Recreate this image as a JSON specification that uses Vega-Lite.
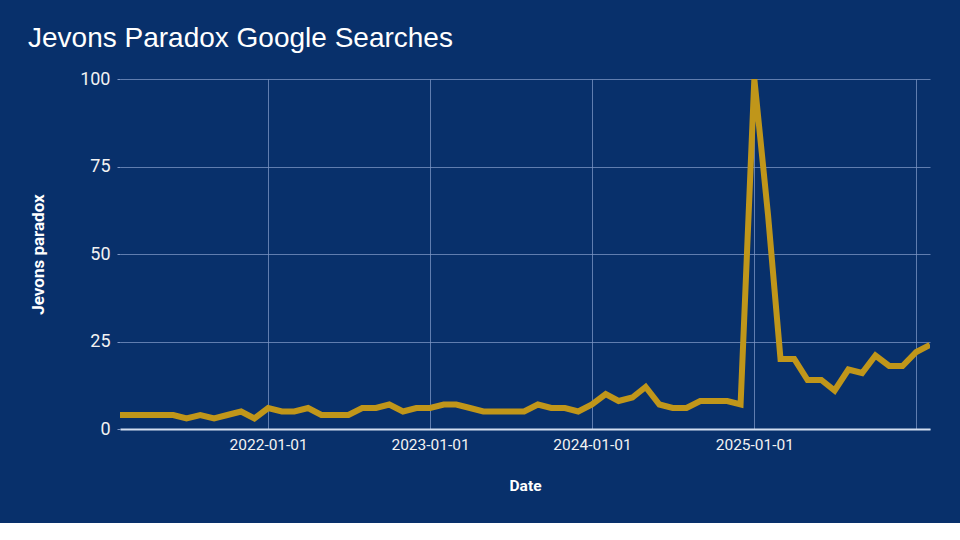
{
  "$schema": "https://vega.github.io/schema/vega-lite/v6.json",
  "autosize": {"type": "none"},
  "width": 810,
  "height": 350,
  "padding": {"left": 120, "top": 79, "right": 30, "bottom": 94},
  "background": "#08306b",
  "config": {
    "view": {"stroke": null},
    "font": "Roboto"
  },
  "title": {
    "text": "Jevons Paradox Google Searches",
    "anchor": "start",
    "frame": "group",
    "dx": -92,
    "offset": 17,
    "font": "Liberation Sans",
    "fontSize": 28,
    "fontWeight": "normal",
    "color": "#ffffff"
  },
  "data": {
    "values": [
      {"date": "2021-02-01", "value": 4},
      {"date": "2021-03-01", "value": 4},
      {"date": "2021-04-01", "value": 4},
      {"date": "2021-05-01", "value": 4},
      {"date": "2021-06-01", "value": 4},
      {"date": "2021-07-01", "value": 3},
      {"date": "2021-08-01", "value": 4},
      {"date": "2021-09-01", "value": 3},
      {"date": "2021-10-01", "value": 4},
      {"date": "2021-11-01", "value": 5},
      {"date": "2021-12-01", "value": 3},
      {"date": "2022-01-01", "value": 6},
      {"date": "2022-02-01", "value": 5},
      {"date": "2022-03-01", "value": 5},
      {"date": "2022-04-01", "value": 6},
      {"date": "2022-05-01", "value": 4},
      {"date": "2022-06-01", "value": 4},
      {"date": "2022-07-01", "value": 4},
      {"date": "2022-08-01", "value": 6},
      {"date": "2022-09-01", "value": 6},
      {"date": "2022-10-01", "value": 7},
      {"date": "2022-11-01", "value": 5},
      {"date": "2022-12-01", "value": 6},
      {"date": "2023-01-01", "value": 6},
      {"date": "2023-02-01", "value": 7},
      {"date": "2023-03-01", "value": 7},
      {"date": "2023-04-01", "value": 6},
      {"date": "2023-05-01", "value": 5},
      {"date": "2023-06-01", "value": 5},
      {"date": "2023-07-01", "value": 5},
      {"date": "2023-08-01", "value": 5},
      {"date": "2023-09-01", "value": 7},
      {"date": "2023-10-01", "value": 6},
      {"date": "2023-11-01", "value": 6},
      {"date": "2023-12-01", "value": 5},
      {"date": "2024-01-01", "value": 7},
      {"date": "2024-02-01", "value": 10},
      {"date": "2024-03-01", "value": 8},
      {"date": "2024-04-01", "value": 9},
      {"date": "2024-05-01", "value": 12},
      {"date": "2024-06-01", "value": 7},
      {"date": "2024-07-01", "value": 6},
      {"date": "2024-08-01", "value": 6},
      {"date": "2024-09-01", "value": 8},
      {"date": "2024-10-01", "value": 8},
      {"date": "2024-11-01", "value": 8},
      {"date": "2024-12-01", "value": 7},
      {"date": "2025-01-01", "value": 100},
      {"date": "2025-02-01", "value": 61},
      {"date": "2025-03-01", "value": 20},
      {"date": "2025-04-01", "value": 20},
      {"date": "2025-05-01", "value": 14},
      {"date": "2025-06-01", "value": 14},
      {"date": "2025-07-01", "value": 11},
      {"date": "2025-08-01", "value": 17},
      {"date": "2025-09-01", "value": 16},
      {"date": "2025-10-01", "value": 21},
      {"date": "2025-11-01", "value": 18},
      {"date": "2025-12-01", "value": 18},
      {"date": "2026-01-01", "value": 22},
      {"date": "2026-02-01", "value": 24}
    ]
  },
  "mark": {
    "type": "line",
    "color": "#c0961a",
    "strokeWidth": 6,
    "strokeJoin": "miter",
    "clip": true
  },
  "encoding": {
    "x": {
      "field": "date",
      "type": "temporal",
      "scale": {"type": "utc"},
      "title": "Date",
      "axis": {
        "values": [
          {"year": 2022, "month": 1, "date": 1, "utc": true},
          {"year": 2023, "month": 1, "date": 1, "utc": true},
          {"year": 2024, "month": 1, "date": 1, "utc": true},
          {"year": 2025, "month": 1, "date": 1, "utc": true},
          {"year": 2026, "month": 1, "date": 1, "utc": true}
        ],
        "format": "%Y-%m-%d",
        "labelExpr": "utcyear(datum.value) == 2026 ? '' : datum.label",
        "grid": true,
        "gridColor": "#7d97c6",
        "gridOpacity": 0.75,
        "gridWidth": 1,
        "ticks": false,
        "domain": true,
        "domainColor": "#d2ddf0",
        "domainWidth": 2,
        "labelFont": "Roboto",
        "labelFontSize": 15.5,
        "labelColor": "#f2f2f2",
        "labelPadding": 8,
        "titleFont": "Roboto",
        "titleFontSize": 15.5,
        "titleFontWeight": "bold",
        "titleColor": "#ffffff",
        "titlePadding": 26
      }
    },
    "y": {
      "field": "value",
      "type": "quantitative",
      "scale": {"domain": [0, 100], "nice": false},
      "title": "Jevons paradox",
      "axis": {
        "values": [0, 25, 50, 75, 100],
        "grid": true,
        "gridColor": "#7d97c6",
        "gridOpacity": 0.75,
        "gridWidth": 1,
        "domain": false,
        "ticks": true,
        "tickSize": 3,
        "tickColor": "#7d97c6",
        "labelFont": "Roboto",
        "labelFontSize": 18,
        "labelColor": "#f2f2f2",
        "labelPadding": 7,
        "titleFont": "Roboto",
        "titleFontSize": 17,
        "titleFontWeight": "bold",
        "titleColor": "#ffffff",
        "titlePadding": 32
      }
    }
  }
}
